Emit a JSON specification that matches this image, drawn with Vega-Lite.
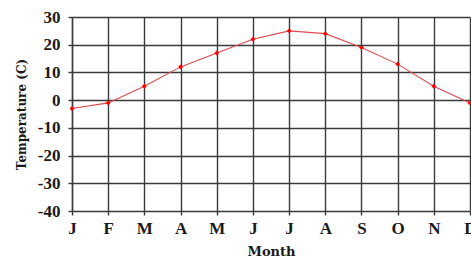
{
  "$schema": "https://vega.github.io/schema/vega-lite/v6.json",
  "width": 398,
  "height": 194,
  "autosize": {"type": "none"},
  "padding": {"left": 72, "top": 17, "right": 1, "bottom": 52},
  "background": "white",
  "data": {"values": [
    {"i": 1, "Month": "J", "Temp": -3},
    {"i": 2, "Month": "F", "Temp": -1},
    {"i": 3, "Month": "M", "Temp": 5},
    {"i": 4, "Month": "A", "Temp": 12},
    {"i": 5, "Month": "M ", "Temp": 17},
    {"i": 6, "Month": "J ", "Temp": 22},
    {"i": 7, "Month": "J  ", "Temp": 25},
    {"i": 8, "Month": "A ", "Temp": 24},
    {"i": 9, "Month": "S", "Temp": 19},
    {"i": 10, "Month": "O", "Temp": 13},
    {"i": 11, "Month": "N", "Temp": 5},
    {"i": 12, "Month": "D", "Temp": -1}
  ]},
  "config": {
    "view": {"stroke": null},
    "axis": {
      "labelFont": "Liberation Serif",
      "labelFontWeight": "bold",
      "labelFontSize": 17,
      "labelColor": "#1a1a1a",
      "titleFont": "DejaVu Serif",
      "titleFontWeight": "bold",
      "titleColor": "#1a1a1a",
      "gridColor": "#3a3a3a",
      "gridWidth": 1.4,
      "gridOpacity": 1,
      "tickColor": "#3a3a3a",
      "tickWidth": 1.4,
      "tickSize": 4,
      "domainColor": "#3a3a3a",
      "domainWidth": 1.4
    }
  },
  "encoding": {
    "x": {
      "field": "Month",
      "type": "ordinal",
      "sort": {"field": "i"},
      "scale": {"type": "point", "padding": 0},
      "axis": {"title": "Month", "titleFontSize": 13, "titlePadding": 9, "labelAngle": 0, "labelPadding": 5, "grid": true, "domain": false}
    },
    "y": {
      "field": "Temp",
      "type": "quantitative",
      "scale": {"domain": [-40, 30], "nice": false},
      "axis": {"title": "Temperature (C)", "titleFontSize": 12, "titlePadding": 9, "values": [-40, -30, -20, -10, 0, 10, 20, 30], "labelExpr": "replace(datum.label, '−', '-')", "labelPadding": 8, "grid": true, "domain": true}
    }
  },
  "layer": [
    {"mark": {"type": "line", "color": "#dc4a50", "strokeWidth": 1.1}},
    {"mark": {"type": "point", "shape": "diamond", "filled": true, "color": "#ff0000", "size": 24, "opacity": 1}}
  ]
}
